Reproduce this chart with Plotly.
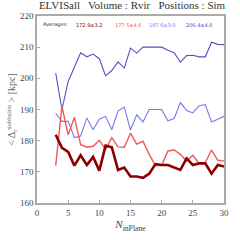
import plotly.graph_objects as go

n_inplane = list(range(3, 31))

dark_red = [181.9, 177.7, 176.4, 172.0, 175.3, 172.2, 174.8, 170.4, 178.4, 177.9,
            170.6, 171.4, 168.5, 168.5, 168.1, 169.4, 172.5, 172.2, 172.2, 171.4,
            170.6, 174.3, 172.2, 172.7, 172.7, 169.4, 172.2, 171.7]
light_red = [172.0, 191.0, 181.9, 187.5, 178.7, 177.9, 178.2, 180.1, 177.2, 181.0,
             178.0, 177.9, 182.4, 178.9, 179.8, 175.6, 172.0, 172.0, 176.7, 177.0,
             175.6, 173.5, 175.3, 172.7, 173.0, 177.0, 173.7, 173.5]
light_blue = [188.8, 186.2, 186.2, 181.0, 181.5, 187.3, 183.5, 186.9, 187.8, 183.6,
              189.5, 190.8, 183.4, 188.3, 186.0, 190.0, 190.0, 190.0, 186.4, 187.1,
              192.2, 189.7, 188.9, 191.2, 191.6, 186.0, 186.9, 187.8]
dark_blue = [201.7, 190.0, 199.0, 203.7, 208.2, 206.9, 207.8, 206.3, 200.8, 202.5,
             205.3, 203.3, 209.7, 208.1, 210.0, 210.0, 210.0, 210.0, 209.0, 208.2,
             205.2, 207.3, 207.4, 206.9, 206.9, 211.6, 210.9, 210.8]

avg_labels = ["172.9±3.2", "177.5±4.6", "187.6±3.0", "206.4±4.6"]
avg_x_px = [89, 129, 164, 202]

colors = ["#8b0000", "#ee5a5a", "#7878ee", "#5050c8"]
widths = [2.6, 1.4, 1.1, 1.1]
series = [dark_red, light_red, light_blue, dark_blue]

fig = go.Figure()
for ys, c, w in zip(series[::-1], colors[::-1], widths[::-1]):
    fig.add_trace(go.Scatter(x=n_inplane, y=ys, mode="lines",
                             line=dict(color=c, width=w), showlegend=False))

serif = "Liberation Serif, DejaVu Serif, serif"
fig.update_layout(
    width=240, height=240,
    margin=dict(l=36, r=12, t=11, b=37),
    paper_bgcolor="white", plot_bgcolor="white",
    font=dict(family=serif, size=9, color="#444"),
    title=dict(text="ELVISall   Volume : Rvir   Positions : Sim",
               x=0.55, xanchor="center", y=0.995, yanchor="top",
               font=dict(family=serif, size=11, color="#333")),
)
fig.update_xaxes(range=[0, 30], tickvals=[0, 5, 10, 15, 20, 25, 30],
                 showgrid=False, zeroline=False, showline=True,
                 linecolor="#aaaaaa", linewidth=1.6, mirror=True,
                 ticks="inside", ticklen=3, tickcolor="#aaaaaa",
                 tickfont=dict(family=serif, size=9, color="#444"),
                 title=dict(text="<i>N</i><sub>inPlane</sub>", standoff=4,
                            font=dict(family=serif, size=11, color="#444")))
fig.update_yaxes(range=[160, 220], tickvals=[160, 170, 180, 190, 200, 210, 220],
                 showgrid=False, zeroline=False, showline=True,
                 linecolor="#aaaaaa", linewidth=1.6, mirror=True,
                 ticks="inside", ticklen=3, tickcolor="#aaaaaa",
                 tickfont=dict(family=serif, size=9, color="#444"),
                 title=dict(text="&lt; Δ<sub>r</sub><sup>subhalos</sup> &gt; [kpc]", standoff=2,
                            font=dict(family=serif, size=10, color="#666")))

fig.add_annotation(text="Averages:", xref="paper", yref="paper",
                   x=(55 - 36) / 192, y=(203 - 20) / 192, showarrow=False,
                   xanchor="center", yanchor="middle",
                   font=dict(family="DejaVu Sans, sans-serif", size=5, color="#333"))
for lab, px, c in zip(avg_labels, avg_x_px, colors):
    fig.add_annotation(text=lab, xref="paper", yref="paper",
                       x=(px - 36) / 192, y=(203 - 20) / 192, showarrow=False,
                       xanchor="center", yanchor="middle",
                       font=dict(family="DejaVu Sans, sans-serif", size=5, color=c))

fig.write_html("out.html", config={"displayModeBar": False})
with open("out.html", "r", encoding="utf-8") as f:
    html = f.read()
html = html.replace("<head>", "<head><style>html,body{margin:0;padding:0;overflow:hidden;}</style>", 1)
with open("out.html", "w", encoding="utf-8") as f:
    f.write(html)
